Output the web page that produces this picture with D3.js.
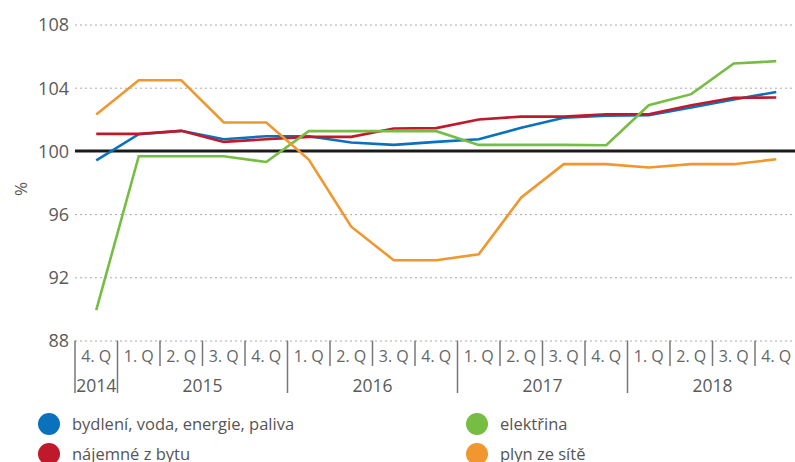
<!DOCTYPE html>
<html>
<head>
<meta charset="utf-8">
<script src="https://cdn.jsdelivr.net/npm/d3@7"></script>
<style>
  body { margin: 0; background: #fff; }
  text { font-family: 'Open Sans', sans-serif; }
</style>
</head>
<body>
<script>
var quarters = ['4. Q', '1. Q', '2. Q', '3. Q', '4. Q', '1. Q', '2. Q', '3. Q', '4. Q',
  '1. Q', '2. Q', '3. Q', '4. Q', '1. Q', '2. Q', '3. Q', '4. Q'];
var yearLabels = ['2014', '2015', '2016', '2017', '2018'];
var yearQuarterCounts = [1, 4, 4, 4, 4];
var yTicks = [88, 92, 96, 100, 104, 108];

var bydleni = [99.4, 101.06, 101.27, 100.74, 100.93, 100.93, 100.53, 100.38, 100.57,
  100.74, 101.46, 102.1, 102.22, 102.26, 102.75, 103.25, 103.73];
var najemne = [101.08, 101.08, 101.27, 100.57, 100.74, 100.89, 100.89, 101.42, 101.44,
  101.99, 102.17, 102.17, 102.32, 102.32, 102.89, 103.36, 103.38];
var elektrina = [89.92, 99.66, 99.66, 99.66, 99.3, 101.25, 101.25, 101.25, 101.25,
  100.38, 100.38, 100.38, 100.36, 102.89, 103.59, 105.53, 105.68];
var plyn = [102.3, 104.47, 104.47, 101.8, 101.8, 99.45, 95.2, 93.08, 93.08,
  93.46, 97.05, 99.16, 99.16, 98.95, 99.16, 99.16, 99.47];

var seriesNames = ['bydlení, voda, energie, paliva', 'nájemné z bytu', 'elektřina', 'plyn ze sítě'];
var seriesColors = ['#0a72bd', '#c0192b', '#76be43', '#f0972f'];
var seriesValues = [bydleni, najemne, elektrina, plyn];

var w = 795;
var h = 462;

var svg = d3.select('body')
  .append('svg')
  .attr('width', w)
  .attr('height', h);

/* ===== scales ===== */

var xScale = d3.scaleBand()
  .domain(d3.range(quarters.length))
  .range([75, 797.5]);

var yScale = d3.scaleLinear()
  .domain([88, 108])
  .range([340.5, 24.5]);

var cx = function(i) { return xScale(i) + xScale.bandwidth() / 2; };

/* ===== grid + y axis ===== */

var yAxis = d3.axisLeft(yScale)
  .tickValues(yTicks)
  .tickSize(-(w - 75))
  .tickPadding(6)
  .tickFormat(d3.format('d'));

var gy = svg.append('g')
  .attr('transform', 'translate(75,0)')
  .call(yAxis);
gy.select('.domain').remove();
gy.selectAll('.tick line')
  .attr('stroke', '#aaa')
  .attr('stroke-dasharray', '2,3')
  .attr('stroke-width', 1);
gy.selectAll('.tick text')
  .attr('fill', '#5a5a5a')
  .attr('font-size', 18)
  .attr('dy', '0.36em');

svg.append('line')
  .attr('x1', 75).attr('x2', w)
  .attr('y1', yScale(100)).attr('y2', yScale(100))
  .attr('stroke', '#1a1a1a')
  .attr('stroke-width', 3);

svg.append('text')
  .attr('transform', 'translate(27,' + 189 + ') rotate(-90)')
  .attr('text-anchor', 'middle')
  .attr('fill', '#5a5a5a')
  .attr('font-size', 17)
  .text('%');

/* ===== x axis ===== */

var axisTop = yScale(88);
var yearStarts = [0];
yearQuarterCounts.forEach(function(c, i) { yearStarts.push(yearStarts[i] + c); });

svg.selectAll('.qsep')
  .data(d3.range(quarters.length))
  .enter()
  .append('line')
  .attr('class', 'qsep')
  .attr('x1', function(i) { return xScale(i); })
  .attr('x2', function(i) { return xScale(i); })
  .attr('y1', axisTop)
  .attr('y2', function(i) { return yearStarts.indexOf(i) >= 0 ? 393 : 366; })
  .attr('stroke', '#777')
  .attr('stroke-width', 1.5);

svg.selectAll('.qlabel')
  .data(quarters)
  .enter()
  .append('text')
  .attr('class', 'qlabel')
  .attr('x', function(d, i) { return cx(i); })
  .attr('y', 362)
  .attr('text-anchor', 'middle')
  .attr('fill', '#666')
  .attr('font-size', 16)
  .text(function(d) { return d; });

svg.selectAll('.ylabel')
  .data(yearLabels)
  .enter()
  .append('text')
  .attr('class', 'ylabel')
  .attr('x', function(d, i) {
    var a = xScale(yearStarts[i]);
    var b = xScale(yearStarts[i + 1] - 1) + xScale.bandwidth();
    return (a + b) / 2;
  })
  .attr('y', 392)
  .attr('text-anchor', 'middle')
  .attr('fill', '#5a5a5a')
  .attr('font-size', 17.5)
  .text(function(d) { return d; });

/* ===== lines ===== */

var line = d3.line()
  .x(function(d, i) { return cx(i); })
  .y(function(d) { return yScale(d); });

svg.selectAll('.series')
  .data(seriesValues)
  .enter()
  .append('path')
  .attr('class', 'series')
  .attr('d', line)
  .attr('fill', 'none')
  .attr('stroke', function(d, i) { return seriesColors[i]; })
  .attr('stroke-width', 2.6)
  .attr('stroke-linejoin', 'miter');

/* ===== legend ===== */

var legendX = [49, 477];
var legendY = [424, 454];

var lg = svg.selectAll('.legend')
  .data(seriesNames)
  .enter()
  .append('g')
  .attr('class', 'legend')
  .attr('transform', function(d, i) {
    return 'translate(' + legendX[Math.floor(i / 2)] + ',' + legendY[i % 2] + ')';
  });

lg.append('circle')
  .attr('r', 11)
  .attr('fill', function(d, i) { return seriesColors[i]; });

lg.append('text')
  .attr('x', 23)
  .attr('y', 6)
  .attr('fill', '#555')
  .attr('font-size', 16.5)
  .text(function(d) { return d; });
</script>
</body>
</html>
